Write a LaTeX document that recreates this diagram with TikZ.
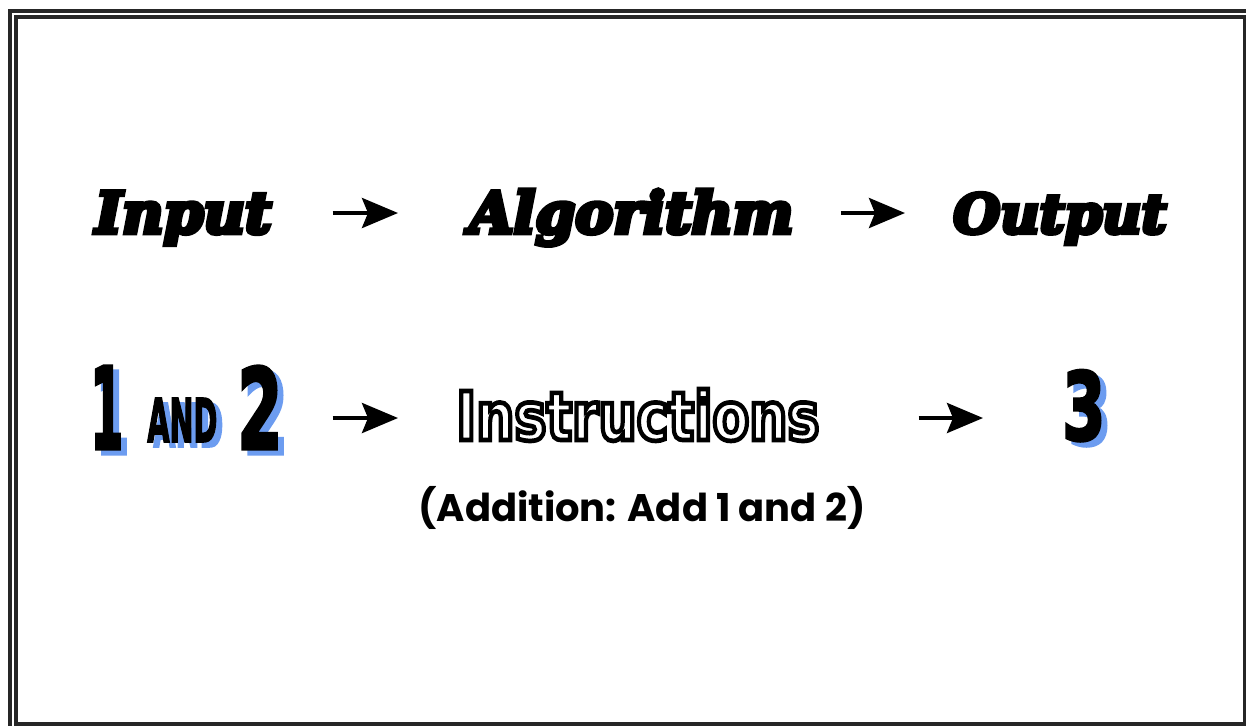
\documentclass[tikz,border=0pt]{standalone}
\usepackage{fontspec}
\usetikzlibrary{arrows.meta}
\setmainfont{DejaVu Serif}
\newfontfamily\titlefont{DejaVu Serif Bold Italic}[FakeBold=8]
\newfontfamily\numfont{DejaVu Sans Condensed Bold}[FakeBold=3]
\newfontfamily\outlinefont{DejaVu Sans Condensed Bold}[FakeBold=7]
\newfontfamily\notefont{Poppins}
\definecolor{framegray}{HTML}{262626}
\definecolor{shadowblue}{RGB}{108,156,240}
\newlength\pxu
\setlength\pxu{0.02cm}
\newcommand\fitbox[3]{\resizebox{#1\pxu}{#2\pxu}{#3}}
\newcommand\fitwidth[2]{\resizebox{#1\pxu}{!}{#2}}
\newcommand\shadownum[3]{\makebox[0pt][l]{\hspace{6\pxu}\raisebox{-5\pxu}{\color{shadowblue}\fitbox{#1}{#2}{#3}}}\fitbox{#1}{#2}{#3}}
% white fill, black stroke of the emboldened glyphs
\newcommand\hollow[1]{{\color{black}\special{pdf:code 1 1 1 rg}#1}}
\tikzset{
    word/.style={inner sep=0pt, anchor=base west},
    heading/.style={word, font=\titlefont},
    number/.style={word, font=\numfont},
    flow/.style={-{Stealth[length=0.72cm, width=0.6cm, inset=0.12cm]}, line width=0.08cm, black},
    frame/.style={draw=framegray, line width=0.08cm}
}

\begin{document}
\begin{tikzpicture}[x=0.02cm, y=-0.02cm]
    \useasboundingbox (0,0) rectangle (1246,725);
    \clip (0,0) rectangle (1246,725);
    \fill[white] (0,0) rectangle (1246,725);
    % double frame, cut at the right and bottom edges
    \draw[frame] (10,11) rectangle (1260,740);
    \draw[frame] (16,17) rectangle (1245,724);

    % top row
    \node[heading] (input) at (95,233) {\fitwidth{176}{Input}};
    \node[heading] (algorithm) at (469,233) {\fitwidth{324}{Algorithm}};
    \node[heading] (output) at (953,233) {\fitwidth{213}{Output}};
    \draw[flow] ([shift={(61,-20)}]input.base east) -- ([shift={(-71,-20)}]algorithm.base west);
    \draw[flow] ([shift={(47,-20)}]algorithm.base east) -- ([shift={(-48,-20)}]output.base west);

    % bottom row
    \node[number] (one) at (90,449) {\shadownum{33}{83}{1}};
    \node[number] (and) at (147,442) {\shadownum{70}{44}{AND}};
    \node[number] (two) at (237,449) {\shadownum{45}{83}{2}};
    \node[word, font=\outlinefont\fontsize{40}{48}\selectfont] (instructions) at (456,440)
        {\fitbox{363}{51}{\hollow{Instructions}}};
    \node[number] (three) at (1062,440) {\shadownum{43}{70}{3}};
    \node[word, font=\notefont\bfseries] (addition) at (418,521) {\fitwidth{447}{(Addition: Add 1 and 2)}};
    \draw[flow] ([shift={(50,-31)}]two.base east) -- ([shift={(-58,-22)}]instructions.base west);
    \draw[flow] ([shift={(99,-22)}]instructions.base east) -- ([shift={(-79,-22)}]three.base west);
\end{tikzpicture}
\end{document}
